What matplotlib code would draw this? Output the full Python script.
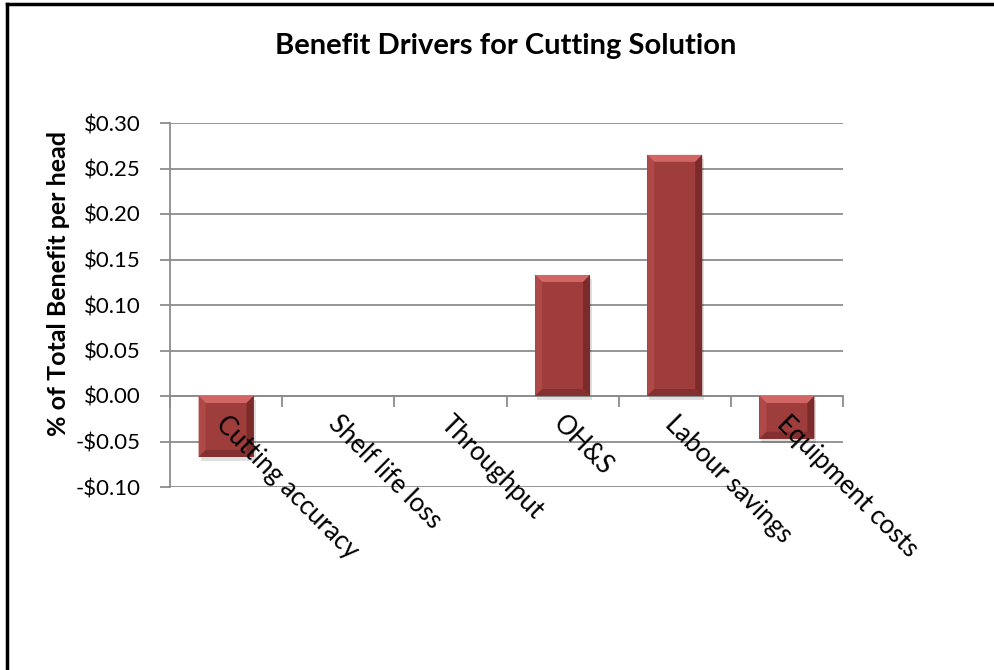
import numpy as np
import matplotlib.pyplot as plt
import matplotlib.transforms as mtransforms
from matplotlib.patches import Polygon, Rectangle
from matplotlib.lines import Line2D

"""
Benefit drivers bar chart (Excel style with bevelled bars)
"""

categories = ["Cutting accuracy", "Shelf life loss", "Throughput", "OH&S",
              "Labour savings", "Equipment costs"]
values = [-0.067, 0.0, 0.0, 0.133, 0.265, -0.047]
yticks = [-0.10, -0.05, 0.0, 0.05, 0.10, 0.15, 0.20, 0.25, 0.30]

plt.rcParams['font.family'] = ['Lato', 'DejaVu Sans']

fig = plt.figure(figsize=(9.94, 6.70), dpi=100)
ax = fig.add_axes([170 / 994, 1 - 487 / 670, (843 - 170) / 994, (487 - 123) / 670])

x = np.arange(len(categories))
width = 0.49
base = "#9E3D3B"

# spines first: set_position resets the ticks
for s in ["top", "right"]:
    ax.spines[s].set_visible(False)
ax.spines["bottom"].set_position(("data", 0))
ax.spines["bottom"].set_color("#8C8C8C")
ax.spines["bottom"].set_linewidth(1.3)
ax.spines["left"].set_color("#8C8C8C")
ax.spines["left"].set_linewidth(1.3)

ax.set_xlim(-0.5, len(categories) - 0.5)
ax.set_ylim(-0.10, 0.30)

# bars, plus a fake bevel drawn from the same values
px_x = len(categories) / (843 - 170)
px_y = 0.40 / (487 - 123)
bx = 7 * px_x
by = 7 * px_y
for xi, v in zip(x, values):
    if v == 0:
        continue
    l, r = xi - width / 2, xi + width / 2
    lo, hi = min(0, v), max(0, v)
    # shadow
    ax.add_patch(Rectangle((l + 2 * px_x, lo - 4 * px_y), width, hi - lo,
                           color="#000000", alpha=0.12, lw=0, zorder=2))
    ax.add_patch(Rectangle((l, lo), width, hi - lo, color=base, lw=0, zorder=3))
    # top (lighter)
    ax.add_patch(Polygon([(l, hi), (r, hi), (r - bx, hi - by), (l + bx, hi - by)],
                         color="#D26664", lw=0, zorder=4))
    # left
    ax.add_patch(Polygon([(l, hi), (l + bx, hi - by), (l + bx, lo + by), (l, lo)],
                         color="#AE4947", lw=0, zorder=4))
    # right (darker)
    ax.add_patch(Polygon([(r, hi), (r - bx, hi - by), (r - bx, lo + by), (r, lo)],
                         color="#7A2B2A", lw=0, zorder=4))
    # bottom (darker)
    ax.add_patch(Polygon([(l, lo), (r, lo), (r - bx, lo + by), (l + bx, lo + by)],
                         color="#843030", lw=0, zorder=4))

ax.set_yticks(yticks)
ax.set_yticklabels([("-$%.2f" % abs(t)) if t < 0 else ("$%.2f" % t) for t in yticks],
                   fontsize=16)
ax.yaxis.grid(True, color="#8C8C8C", lw=1.3)
ax.set_axisbelow(True)

# category labels as text so they sit on top of the bars
ax.set_xticks(x)
ax.set_xticklabels([])
ax.tick_params(axis="x", length=0)
ax.set_xticks(np.arange(len(categories) + 1) - 0.5, minor=True)
ax.tick_params(axis="x", which="minor", length=8, width=1.3, color="#8C8C8C",
               direction="out")
ax.tick_params(axis="y", length=7, width=1.3, color="#8C8C8C", pad=14)
offset = mtransforms.ScaledTranslation(3 / 100, -15 / 100, fig.dpi_scale_trans)
for xi, name in zip(x, categories):
    ax.text(xi, 0, name, transform=ax.transData + offset, rotation=-45,
            rotation_mode="anchor", ha="left", va="top", fontsize=18.5,
            zorder=6, clip_on=False)

ax.set_ylabel("% of Total Benefit per head", fontsize=18, fontweight="bold")
ax.yaxis.set_label_coords(-(170 - 70) / (843 - 170), (487 - 283) / (487 - 123))
fig.text(506 / 994, 1 - 46 / 670, "Benefit Drivers for Cutting Solution",
         ha="center", va="center", fontsize=21, fontweight="bold")

# chart border (only left/top visible in the crop)
fig.add_artist(Line2D([7 / 994, 7 / 994], [0, 1 - 4 / 670], color="black", lw=2.5,
                      transform=fig.transFigure))
fig.add_artist(Line2D([7 / 994, 1], [1 - 4 / 670, 1 - 4 / 670], color="black", lw=2.5,
                      transform=fig.transFigure))

fig.savefig("out.png", dpi=100)
